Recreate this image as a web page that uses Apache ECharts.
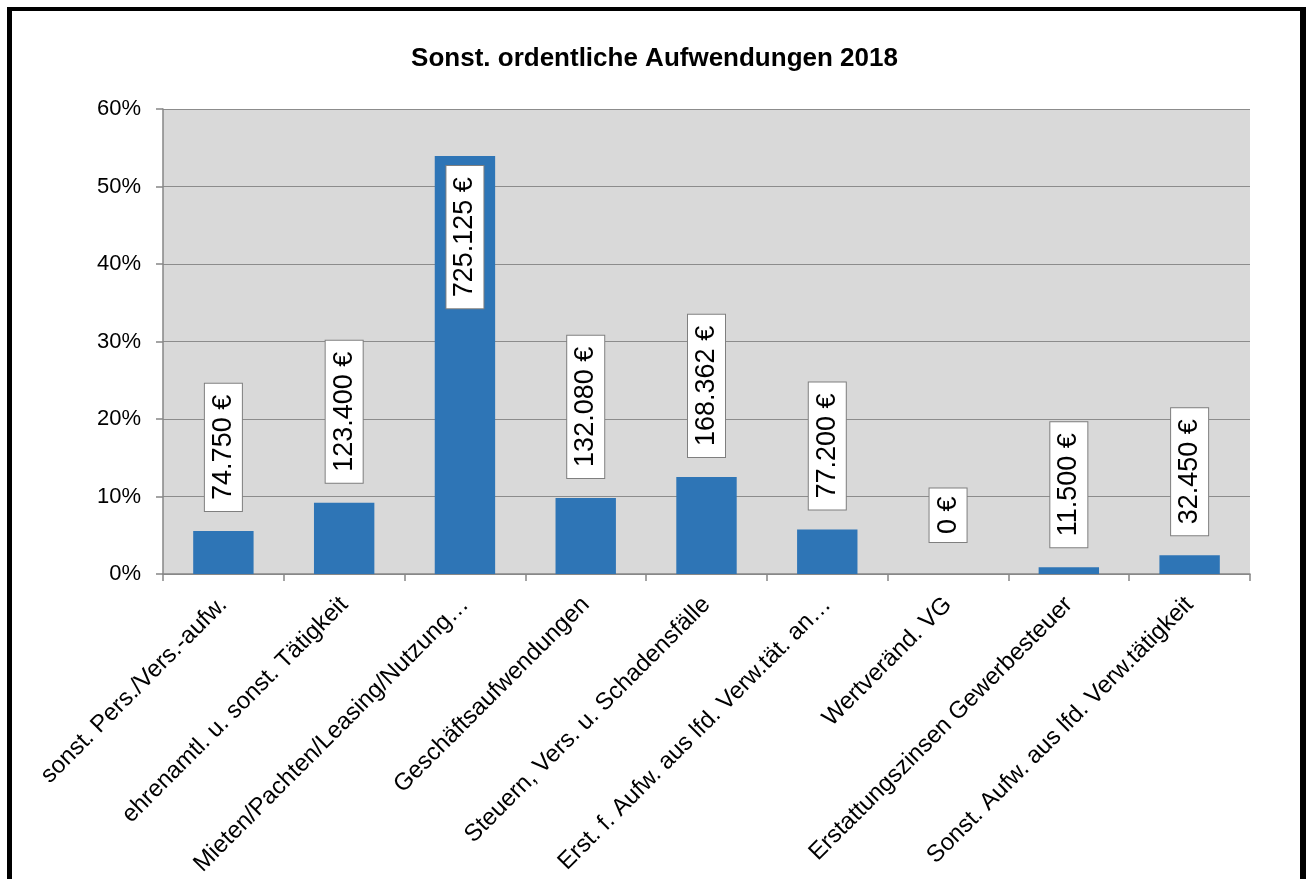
<!DOCTYPE html>
<html>
<head>
<meta charset="utf-8">
<script src="https://cdn.jsdelivr.net/npm/echarts@6/dist/echarts.min.js"></script>
<style>
    html, body { margin: 0; padding: 0; background: #fff; }
    #chart { width: 1309px; height: 879px; }
    .frame {
        position: absolute; left: 7px; top: 7px; width: 1288px; height: 1000px;
        border-left: 5px solid #000; border-top: 4px solid #000; border-right: 6px solid #000;
        pointer-events: none;
    }
    body { overflow: hidden; height: 879px; }
</style>
</head>
<body>
<div id="chart"></div>
<div class="frame"></div>
<script>
// categories (as shown, truncated like in the original)
const categories = [
    'sonst. Pers./Vers.-aufw.',
    'ehrenamtl. u. sonst. Tätigkeit',
    'Mieten/Pachten/Leasing/Nutzung…',
    'Geschäftsaufwendungen',
    'Steuern, Vers. u. Schadensfälle',
    'Erst. f. Aufw. aus lfd. Verw.tät. an…',
    'Wertveränd. VG',
    'Erstattungszinsen Gewerbesteuer',
    'Sonst. Aufw. aus lfd. Verw.tätigkeit'
];
// share in percent
const shares = [5.56, 9.18, 53.92, 9.82, 12.52, 5.74, 0, 0.86, 2.41];
// label texts
const euroLabels = ['74.750 €', '123.400 €', '725.125 €', '132.080 €', '168.362 €', '77.200 €', '0 €', '11.500 €', '32.450 €'];
const yTicks = [0, 10, 20, 30, 40, 50, 60];

const font = 'Arial, "Liberation Sans", sans-serif';
const chart = echarts.init(document.getElementById('chart'));

const labelBase = {
    show: true,
    position: 'top',
    distance: 20,
    rotate: 90,
    align: 'left',
    verticalAlign: 'middle',
    fontFamily: font,
    fontSize: 27,
    lineHeight: 27,
    color: '#000',
    backgroundColor: '#fff',
    borderColor: '#7f7f7f',
    borderWidth: 1,
    padding: [5, 11],
    formatter: function (p) {
        return euroLabels[p.dataIndex];
    }
};

const seriesData = shares.map(function (v, i) {
    const item = {value: v};
    if (v > 40) {
        item.label = {position: 'insideTop', distance: 10, align: 'right'};
    } else if (v === 0) {
        item.label = {distance: 32, padding: [5, 8]};
    }
    return item;
});

chart.setOption({
    animation: false,
    backgroundColor: '#fff',
    title: {
        text: 'Sonst. ordentliche Aufwendungen 2018',
        left: 'center',
        top: 41,
        textStyle: {fontFamily: font, fontSize: 26, fontWeight: 'bold', color: '#000'}
    },
    grid: {
        left: 163,
        right: 59,
        top: 109,
        bottom: 305,
        show: true,
        backgroundColor: '#d9d9d9',
        borderWidth: 0
    },
    xAxis: {
        type: 'category',
        data: categories,
        axisLine: {lineStyle: {color: '#868686', width: 1.5}},
        axisTick: {show: true, length: 7, lineStyle: {color: '#868686', width: 1.5}},
        axisLabel: {
            interval: 0,
            rotate: 45,
            margin: 27,
            fontFamily: font,
            fontSize: 24,
            color: '#000'
        }
    },
    yAxis: {
        type: 'value',
        min: yTicks[0],
        max: yTicks[yTicks.length - 1],
        interval: 10,
        axisLine: {show: true, lineStyle: {color: '#868686', width: 1.5}},
        axisTick: {show: true, length: 7, lineStyle: {color: '#868686', width: 1.5}},
        splitLine: {lineStyle: {color: '#8c8c8c', width: 1.2}},
        axisLabel: {
            margin: 22,
            fontFamily: font,
            fontSize: 22,
            color: '#000',
            formatter: '{value}%'
        }
    },
    series: [{
        type: 'bar',
        data: seriesData,
        barWidth: '50%',
        itemStyle: {color: '#2e75b6'},
        label: labelBase
    }]
});
</script>
</body>
</html>
